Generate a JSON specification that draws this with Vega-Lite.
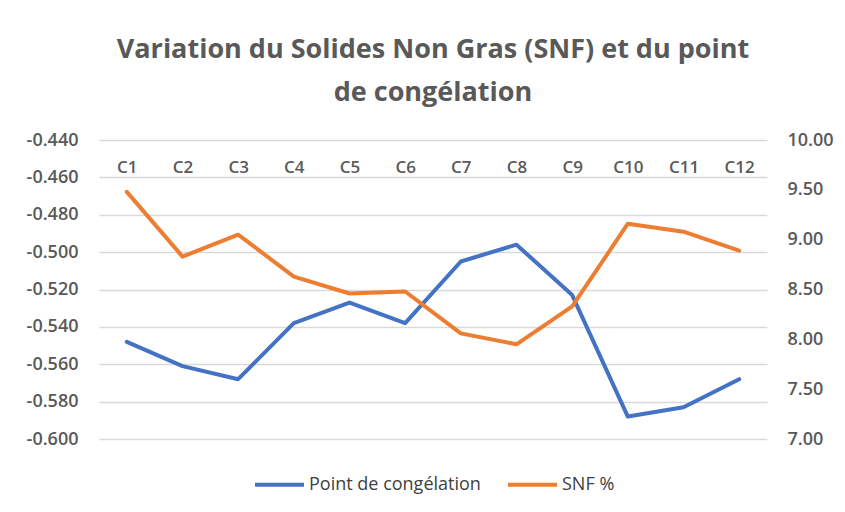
{
  "$schema": "https://vega.github.io/schema/vega-lite/v6.json",
  "width": 668,
  "height": 299,
  "autosize": {"type": "none"},
  "padding": {"left": 99, "top": 140, "right": 78, "bottom": 73},
  "background": "white",
  "title": {
    "text": ["Variation du Solides Non Gras (SNF) et du point", "de congélation"],
    "font": "Open Sans",
    "fontSize": 27,
    "fontWeight": "bold",
    "color": "#595959",
    "anchor": "middle",
    "lineHeight": 43,
    "offset": 24
  },
  "config": {
    "view": {"stroke": null},
    "font": "Open Sans"
  },
  "data": {
    "values": [
      {"cat": "C1", "point": -0.548, "snf": 9.48},
      {"cat": "C2", "point": -0.561, "snf": 8.83},
      {"cat": "C3", "point": -0.568, "snf": 9.05},
      {"cat": "C4", "point": -0.538, "snf": 8.63},
      {"cat": "C5", "point": -0.527, "snf": 8.46},
      {"cat": "C6", "point": -0.538, "snf": 8.48},
      {"cat": "C7", "point": -0.505, "snf": 8.06},
      {"cat": "C8", "point": -0.496, "snf": 7.95},
      {"cat": "C9", "point": -0.523, "snf": 8.33},
      {"cat": "C10", "point": -0.588, "snf": 9.16},
      {"cat": "C11", "point": -0.583, "snf": 9.08},
      {"cat": "C12", "point": -0.568, "snf": 8.89}
    ]
  },
  "encoding": {
    "x": {
      "field": "cat",
      "type": "nominal",
      "sort": null,
      "scale": {"type": "point", "padding": 0.5},
      "axis": {
        "orient": "top",
        "title": null,
        "labelAngle": 0,
        "domain": false,
        "ticks": false,
        "labelBaseline": "alphabetic",
        "labelPadding": -32,
        "labelFontSize": 17,
        "labelFontWeight": 600,
        "labelColor": "#595959",
        "grid": false
      }
    }
  },
  "layer": [
    {
      "mark": {"type": "line", "strokeWidth": 4, "strokeCap": "round", "strokeJoin": "round"},
      "encoding": {
        "y": {
          "field": "point",
          "type": "quantitative",
          "scale": {"domain": [-0.6, -0.44], "nice": false},
          "axis": {
            "orient": "left",
            "title": null,
            "values": [-0.6, -0.58, -0.56, -0.54, -0.52, -0.5, -0.48, -0.46, -0.44],
            "labelExpr": "replace(format(datum.value, '.3f'), '−', '-')",
            "domain": false,
            "ticks": false,
            "labelPadding": 21,
            "labelFontSize": 18,
            "labelFontWeight": 600,
            "labelColor": "#595959",
            "grid": true,
            "gridColor": "#d9d9d9",
            "gridWidth": 1.5
          }
        },
        "color": {
          "datum": "Point de congélation",
          "type": "nominal",
          "scale": {"domain": ["Point de congélation", "SNF %"], "range": ["#4472C4", "#ED7D31"]},
          "legend": {
            "orient": "none",
            "legendX": 154,
            "legendY": 318,
            "direction": "horizontal",
            "title": null,
            "symbolType": "stroke",
            "symbolSize": 2400,
            "symbolStrokeWidth": 4,
            "labelFontSize": 18,
            "labelFont": "Open Sans",
            "labelColor": "#404040",
            "labelLimit": 400,
            "columnPadding": 19,
            "labelOffset": 3
          }
        }
      }
    },
    {
      "mark": {"type": "line", "strokeWidth": 4, "strokeCap": "round", "strokeJoin": "round"},
      "encoding": {
        "y": {
          "field": "snf",
          "type": "quantitative",
          "scale": {"domain": [7, 10], "nice": false},
          "axis": {
            "orient": "right",
            "title": null,
            "values": [7, 7.5, 8, 8.5, 9, 9.5, 10],
            "format": ".2f",
            "domain": false,
            "ticks": false,
            "labelPadding": 20,
            "labelFontSize": 18,
            "labelFontWeight": 600,
            "labelColor": "#595959",
            "grid": false
          }
        },
        "color": {"datum": "SNF %", "type": "nominal"}
      }
    }
  ],
  "resolve": {"scale": {"y": "independent"}}
}
